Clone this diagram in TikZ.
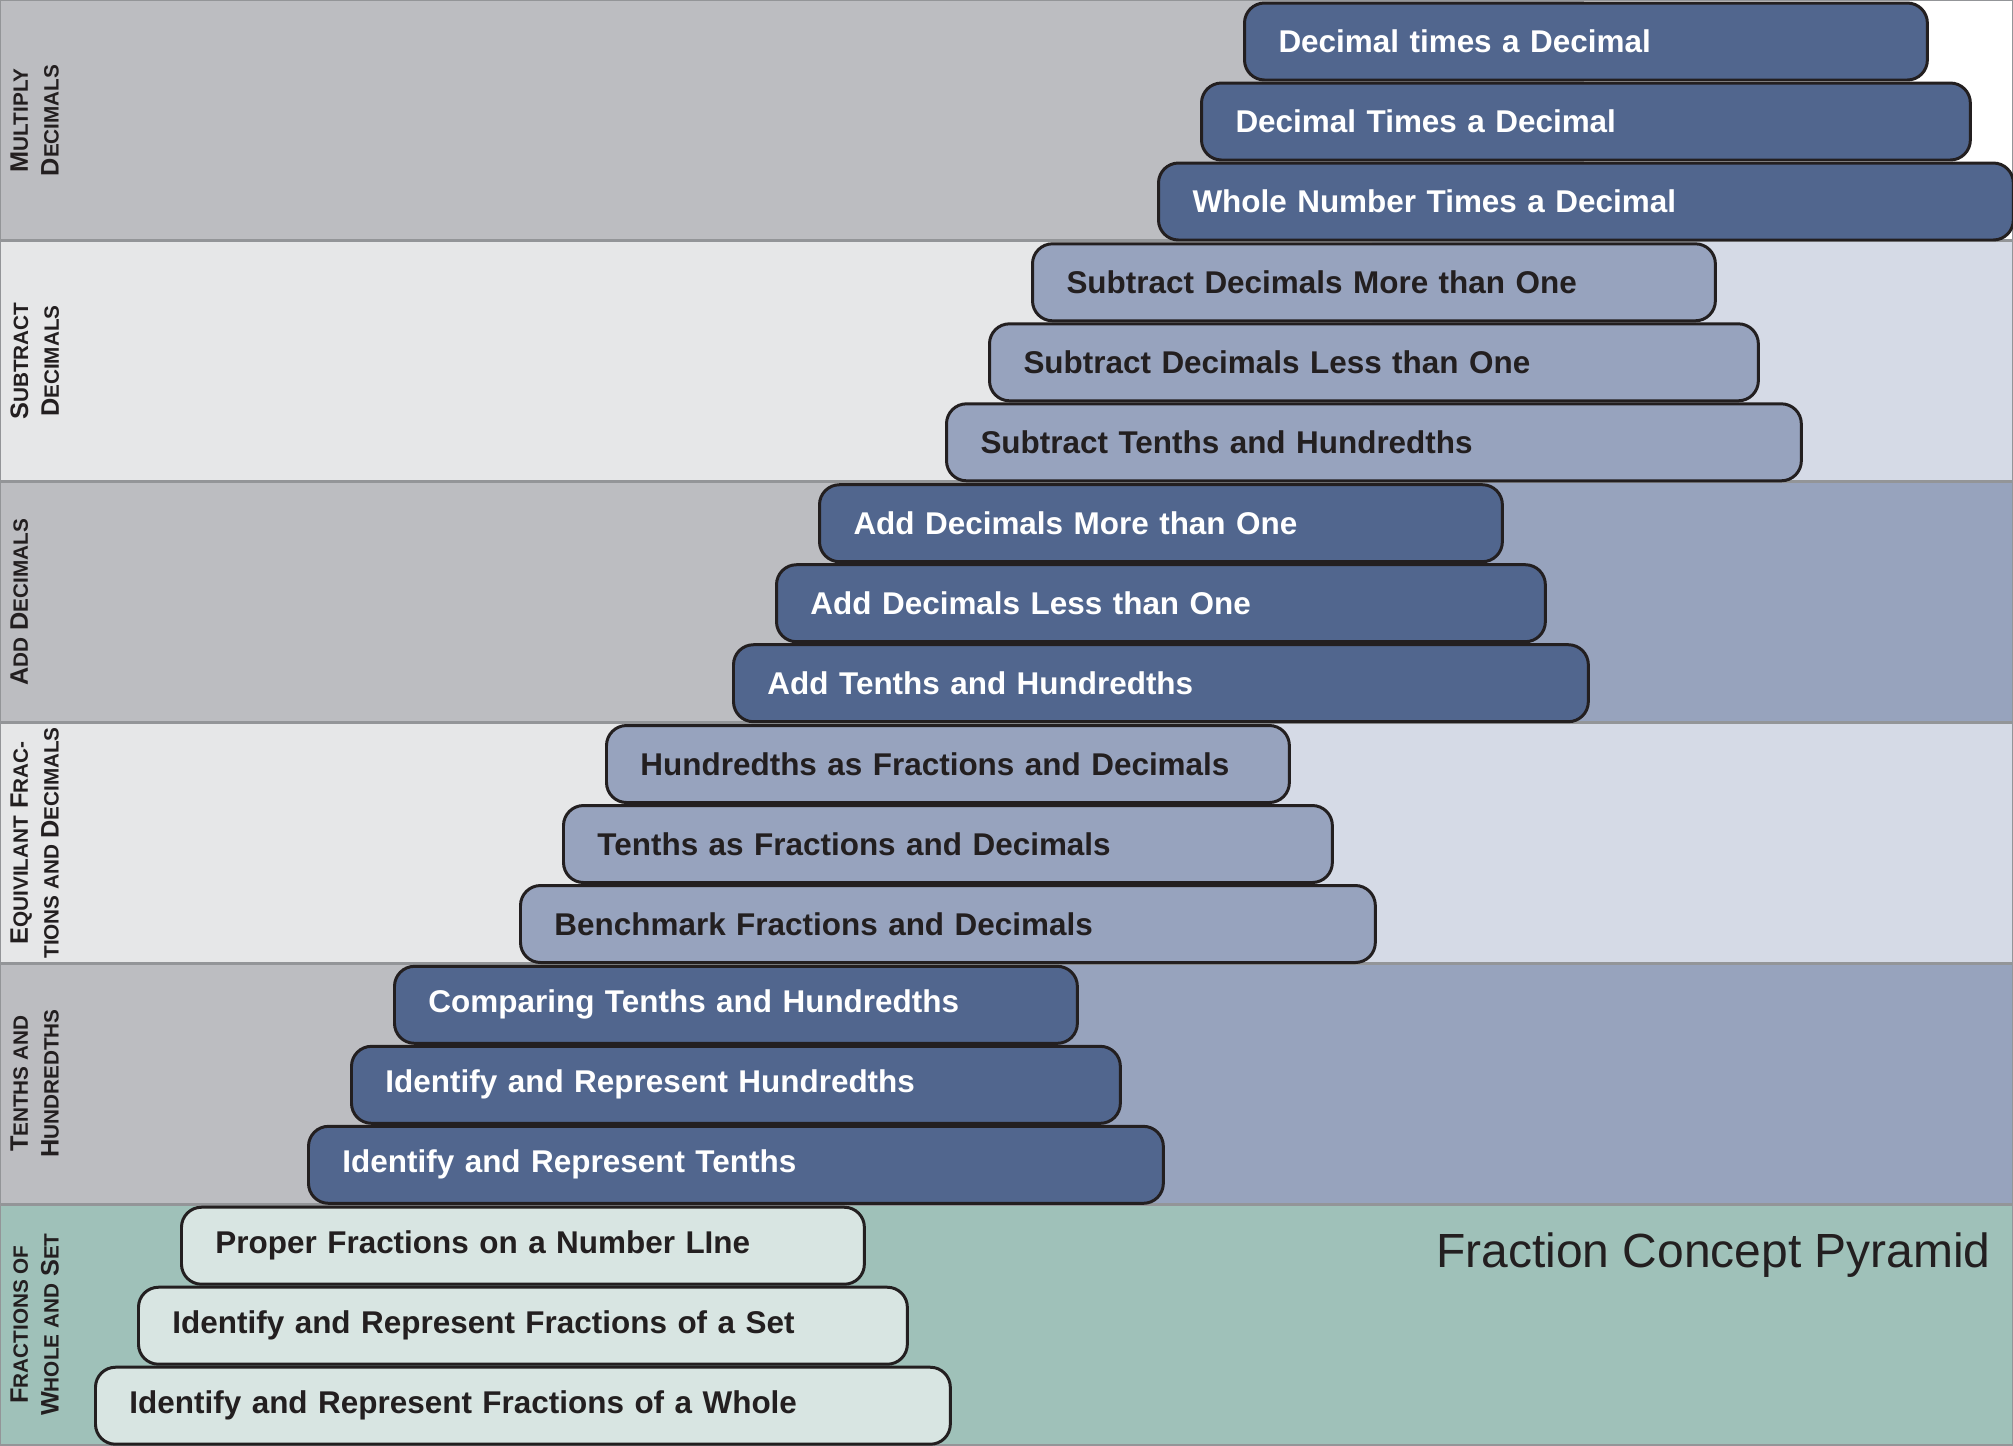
\documentclass[tikz,border=0pt]{standalone}
\usepackage{fontspec}
\setmainfont{Liberation Sans}
\usepackage{tikz}
\usetikzlibrary{positioning}
\usepackage{xcolor}

\definecolor{bandgray}{HTML}{939598}
\definecolor{leftdark}{HTML}{BCBDC1}
\definecolor{leftlight}{HTML}{E6E7E8}
\definecolor{rightdark}{HTML}{97A3BD}
\definecolor{rightlight}{HTML}{D5DAE6}
\definecolor{bandteal}{HTML}{9FC1B9}
\definecolor{boxdark}{HTML}{51668E}
\definecolor{boxlight}{HTML}{97A3BE}
\definecolor{boxpale}{HTML}{D8E5E2}
\definecolor{inkblk}{HTML}{231F20}

% fake small caps for the side labels
\newcommand\fsc[2]{#1{\fontsize{11.8}{17.6}\selectfont #2}}

\begin{document}
\begin{tikzpicture}[x=0.02cm, y=-0.02cm,
                lvl/.style={draw=inkblk, line width=1.7pt, rounded corners=0.4cm, minimum height=1.54cm,
                            inner xsep=0.68cm, inner ysep=0pt, anchor=west, align=left,
                            font=\fontsize{17.9}{22}\selectfont\bfseries},
                darkbox/.style={lvl, fill=boxdark, text=white},
                lightbox/.style={lvl, fill=boxlight, text=inkblk},
                palebox/.style={lvl, fill=boxpale, text=inkblk},
                wA/.style={text width=12.30cm},
                wB/.style={text width=14.02cm},
                wC/.style={text width=15.74cm},
                bandrule/.style={draw=bandgray, line width=1.5pt},
                side/.style={rotate=90, anchor=north, align=center, inner sep=0pt, text=inkblk,
                             font=\fontsize{14.4}{17.6}\selectfont\bfseries},
            ]
                \useasboundingbox (0,0) rectangle (2013,1445);

                % Bands, top to bottom
                \fill[leftdark] (0,0) rectangle (1584,240.8);
                \fill[white] (1584,0) rectangle (2013,240.8);
                \fill[leftlight] (0,240.8) rectangle (1372,481.7);
                \fill[rightlight] (1372,240.8) rectangle (2013,481.7);
                \fill[leftdark] (0,481.7) rectangle (1159,722.5);
                \fill[rightdark] (1159,481.7) rectangle (2013,722.5);
                \fill[leftlight] (0,722.5) rectangle (946,963.3);
                \fill[rightlight] (946,722.5) rectangle (2013,963.3);
                \fill[leftdark] (0,963.3) rectangle (734,1204.2);
                \fill[rightdark] (734,963.3) rectangle (2013,1204.2);
                \fill[bandteal] (0,1204.2) rectangle (2013,1445);
                \draw[bandrule] (0,0) rectangle (2013,240.8);
                \draw[bandrule] (0,240.8) rectangle (2013,481.7);
                \draw[bandrule] (0,481.7) rectangle (2013,722.5);
                \draw[bandrule] (0,722.5) rectangle (2013,963.3);
                \draw[bandrule] (0,963.3) rectangle (2013,1204.2);
                \draw[bandrule] (0,1204.2) rectangle (2013,1445);

                % Side labels
                \node[side] (lblmul) at (10,120.4) {\fsc{M}{ULTIPLY}\\\fsc{D}{ECIMALS}};
                \node[side] (lblsub) at (10,361.2) {\fsc{S}{UBTRACT}\\\fsc{D}{ECIMALS}};
                \node[side] (lbladd) at (10,602.1) {\fsc{A}{DD} \fsc{D}{ECIMALS}};
                \node[side] (lbleqv) at (10,842.9) {\fsc{E}{QUIVILANT} \fsc{F}{RAC-}\\{\fontsize{11.8}{17.6}\selectfont TIONS AND }\fsc{D}{ECIMALS}};
                \node[side] (lblten) at (10,1083.7) {\fsc{T}{ENTHS AND}\\\fsc{H}{UNDREDTHS}};
                \node[side] (lblfrc) at (10,1324.6) {\fsc{F}{RACTIONS OF}\\\fsc{W}{HOLE AND} \fsc{S}{ET}};

                % Multiply decimals
                \node[darkbox, wA] (mul1) at (1243,41.5) {Decimal times a Decimal};
                \node[darkbox, wB] (mul2) at (1200,121.5) {Decimal Times a Decimal};
                \node[darkbox, wC] (mul3) at (1157,201.5) {Whole Number Times a Decimal};

                % Subtract decimals
                \node[lightbox, wA] (sub1) at (1031,282.3) {Subtract Decimals More than One};
                \node[lightbox, wB] (sub2) at (988,362.3) {Subtract Decimals Less than One};
                \node[lightbox, wC] (sub3) at (945,442.3) {Subtract Tenths and Hundredths};

                % Add decimals
                \node[darkbox, wA] (add1) at (818,523.2) {Add Decimals More than One};
                \node[darkbox, wB] (add2) at (775,603.2) {Add Decimals Less than One};
                \node[darkbox, wC] (add3) at (732,683.2) {Add Tenths and Hundredths};

                % Equivalent fractions and decimals
                \node[lightbox, wA] (eqv1) at (605,764) {Hundredths as Fractions and Decimals};
                \node[lightbox, wB] (eqv2) at (562,844) {Tenths as Fractions and Decimals};
                \node[lightbox, wC] (eqv3) at (519,924) {Benchmark Fractions and Decimals};

                % Tenths and hundredths
                \node[darkbox, wA] (ten1) at (393,1004.8) {Comparing Tenths and Hundredths};
                \node[darkbox, wB] (ten2) at (350,1084.8) {Identify and Represent Hundredths};
                \node[darkbox, wC] (ten3) at (307,1164.8) {Identify and Represent Tenths};

                % Fractions of whole and set
                \node[palebox, wA] (frc1) at (180,1245.7) {Proper Fractions on a Number LIne};
                \node[palebox, wB] (frc2) at (137,1325.7) {Identify and Represent Fractions of a Set};
                \node[palebox, wC] (frc3) at (94,1405.7) {Identify and Represent Fractions of a Whole};

                % Title
                \node[anchor=base east, inner sep=0pt, text=inkblk, font=\fontsize{27.3}{30}\selectfont]
                    (title) at (1991,1267) {Fraction Concept Pyramid};
            \end{tikzpicture}
\end{document}
